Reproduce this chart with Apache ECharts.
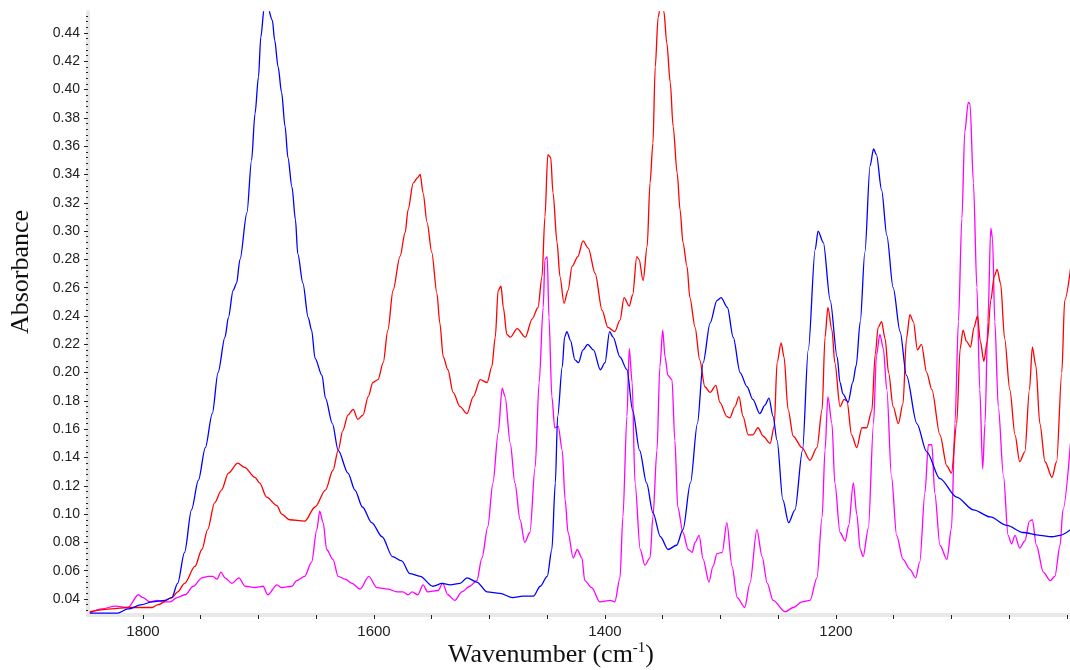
<!DOCTYPE html>
<html>
<head>
<meta charset="utf-8">
<title>IR absorbance spectra</title>
<script src="https://cdn.jsdelivr.net/npm/echarts@6/dist/echarts.min.js"></script>
<style>
  html, body { margin: 0; padding: 0; background: #ffffff; }
  #chart { width: 1070px; height: 670px; }
</style>
</head>
<body>
<div id="chart"></div>
<script>
// Absorbance spectra, [wavenumber (cm-1), absorbance]
const blueSpectrum = [
  [1846, 0.030], [1822, 0.030], [1813, 0.033], [1801, 0.036], [1792, 0.038], [1781, 0.039], [1775, 0.041],
  [1770, 0.051], [1764, 0.073], [1758, 0.103], [1752, 0.124], [1746, 0.147], [1740, 0.171], [1735, 0.200],
  [1729, 0.225], [1726, 0.239], [1722, 0.258], [1719, 0.263], [1716, 0.280], [1710, 0.313], [1706, 0.350],
  [1703, 0.383], [1700, 0.409], [1698, 0.437], [1695, 0.458], [1693.5, 0.463], [1692, 0.458], [1688, 0.449],
  [1686, 0.435], [1683, 0.416], [1680, 0.398], [1677, 0.374], [1674.5, 0.352], [1671, 0.331], [1668, 0.308],
  [1666, 0.284], [1661.5, 0.263], [1657, 0.239], [1654, 0.230], [1651, 0.210], [1645, 0.198], [1642, 0.182],
  [1636, 0.164], [1631, 0.145], [1622.5, 0.129], [1616.5, 0.117], [1610, 0.105], [1602, 0.094], [1593, 0.084],
  [1584, 0.070], [1576, 0.067], [1569, 0.058], [1560, 0.056], [1549, 0.049], [1541, 0.051], [1534, 0.050],
  [1525.5, 0.051], [1519.5, 0.055], [1511, 0.052], [1502, 0.045], [1491, 0.044], [1480, 0.041], [1471, 0.042],
  [1462, 0.042], [1456, 0.049], [1450, 0.056], [1446, 0.075], [1443, 0.122], [1441, 0.169], [1437, 0.204],
  [1435, 0.225], [1433, 0.229], [1430, 0.223], [1426, 0.209], [1423, 0.207], [1419, 0.216], [1415, 0.220],
  [1410, 0.216], [1404, 0.202], [1400, 0.207], [1396, 0.229], [1393, 0.225], [1387, 0.211], [1381, 0.202],
  [1376, 0.173], [1370, 0.145], [1364, 0.122], [1358.5, 0.101], [1352, 0.084], [1345.5, 0.075], [1338, 0.078],
  [1332.5, 0.089], [1326, 0.122], [1320, 0.164], [1315, 0.207], [1309, 0.235], [1303, 0.251], [1299.5, 0.253],
  [1294, 0.246], [1289, 0.225], [1283, 0.200], [1277, 0.190], [1272, 0.181], [1266, 0.171], [1261.5, 0.177],
  [1258, 0.182], [1254.5, 0.169], [1251, 0.152], [1246, 0.110], [1241, 0.094], [1235.5, 0.103], [1229, 0.145],
  [1224, 0.216], [1218, 0.287], [1215.5, 0.300], [1211, 0.292], [1205, 0.251], [1199, 0.211], [1196.5, 0.193],
  [1194, 0.185], [1189.5, 0.179], [1185.5, 0.193], [1182.5, 0.205], [1179, 0.236], [1175, 0.285], [1170.5, 0.346],
  [1167.5, 0.358], [1165, 0.354], [1160.5, 0.329], [1156, 0.297], [1150.5, 0.260], [1144.5, 0.229], [1139, 0.198],
  [1130, 0.164], [1121.5, 0.144], [1110, 0.125], [1095.5, 0.112], [1081, 0.103], [1066.5, 0.098], [1052, 0.092],
  [1038, 0.087], [1023.5, 0.085], [1013, 0.084], [1006, 0.085], [997, 0.089]
];

const redSpectrum = [
  [1846, 0.031], [1827, 0.033], [1813, 0.034], [1792, 0.034], [1787, 0.036], [1775, 0.041], [1770, 0.045],
  [1764, 0.051], [1755, 0.063], [1749, 0.075], [1744, 0.089], [1738, 0.108], [1732, 0.117], [1726, 0.129],
  [1718, 0.136], [1712, 0.133], [1703, 0.126], [1699, 0.122], [1693, 0.112], [1684, 0.106], [1680, 0.100],
  [1673, 0.096], [1660, 0.095], [1651, 0.105], [1642, 0.117], [1635.5, 0.131], [1631, 0.145], [1627, 0.159],
  [1622.5, 0.170], [1618, 0.174], [1614, 0.167], [1609.5, 0.170], [1605, 0.183], [1601, 0.193], [1596.5, 0.195],
  [1592, 0.207], [1588, 0.230], [1583.5, 0.258], [1577.5, 0.282], [1573, 0.299], [1570.5, 0.315], [1566, 0.334],
  [1562, 0.338], [1560, 0.340], [1557.5, 0.327], [1554, 0.306], [1550, 0.285], [1545.5, 0.256], [1543, 0.235],
  [1540, 0.211], [1536, 0.202], [1531.5, 0.186], [1525.5, 0.176], [1519.5, 0.171], [1514, 0.183], [1508, 0.195],
  [1502, 0.193], [1498, 0.204], [1495, 0.225], [1492.5, 0.258], [1490, 0.261], [1488, 0.246], [1485, 0.227],
  [1482, 0.225], [1476, 0.231], [1469, 0.225], [1463, 0.238], [1458, 0.246], [1454.5, 0.268], [1452, 0.310],
  [1449.5, 0.354], [1447, 0.352], [1445, 0.327], [1441.5, 0.292], [1439, 0.268], [1435.5, 0.249], [1432, 0.258],
  [1428.5, 0.275], [1423.5, 0.282], [1419, 0.293], [1414.5, 0.288], [1408.5, 0.270], [1402.5, 0.244], [1397.5, 0.232],
  [1391.5, 0.229], [1387, 0.237], [1383.5, 0.253], [1379, 0.247], [1376, 0.255], [1372.5, 0.282], [1370.5, 0.280],
  [1367, 0.265], [1363.5, 0.289], [1361, 0.334], [1358.5, 0.362], [1356.5, 0.416], [1354, 0.451], [1351.5, 0.462],
  [1349, 0.455], [1346.5, 0.433], [1343.5, 0.405], [1341, 0.374], [1337.5, 0.341], [1335, 0.315], [1332.5, 0.292],
  [1329, 0.275], [1326.5, 0.253], [1322, 0.232], [1318, 0.209], [1313.5, 0.190], [1309, 0.186], [1304, 0.191],
  [1300.5, 0.179], [1294.5, 0.169], [1292, 0.168], [1287.5, 0.176], [1284, 0.183], [1280.5, 0.169], [1276, 0.156],
  [1272, 0.156], [1267.5, 0.161], [1263, 0.155], [1257, 0.150], [1253.5, 0.162], [1251, 0.207], [1247.5, 0.221],
  [1245, 0.211], [1241.5, 0.174], [1237, 0.155], [1229.5, 0.147], [1222.5, 0.138], [1216.5, 0.147], [1212, 0.174],
  [1209.5, 0.225], [1207, 0.246], [1203.5, 0.230], [1201, 0.207], [1196.5, 0.176], [1193, 0.181], [1190.5, 0.180],
  [1186.5, 0.156], [1182, 0.147], [1177.5, 0.161], [1173.5, 0.161], [1169, 0.173], [1166, 0.213], [1163.5, 0.232],
  [1160.5, 0.236], [1157.5, 0.224], [1154.5, 0.200], [1150.5, 0.176], [1146, 0.164], [1142, 0.178], [1139, 0.224],
  [1136, 0.241], [1133, 0.236], [1129.5, 0.216], [1126, 0.220], [1121.5, 0.200], [1117, 0.188], [1110, 0.156],
  [1104, 0.134], [1100, 0.129], [1095.5, 0.164], [1092.5, 0.217], [1090, 0.230], [1087, 0.222], [1083.5, 0.218],
  [1080.5, 0.232], [1077.5, 0.240], [1075, 0.222], [1072, 0.208], [1069, 0.222], [1066, 0.251], [1063, 0.268],
  [1060.5, 0.273], [1057.5, 0.263], [1054, 0.224], [1049.5, 0.188], [1045, 0.156], [1041, 0.137], [1036.5, 0.144],
  [1032.5, 0.188], [1030, 0.218], [1027, 0.205], [1023.5, 0.164], [1019, 0.137], [1013, 0.126], [1009, 0.137],
  [1004.5, 0.200], [1002, 0.251], [997, 0.273]
];

const magentaSpectrum = [
  [1846, 0.030], [1835.5, 0.033], [1824, 0.035], [1813, 0.034], [1804, 0.043], [1800, 0.041], [1794, 0.038],
  [1788, 0.039], [1782.5, 0.038], [1776.5, 0.038], [1770.5, 0.041], [1763.5, 0.043], [1756.5, 0.049], [1749, 0.055],
  [1743.5, 0.056], [1739.5, 0.056], [1736, 0.054], [1732.5, 0.059], [1729, 0.055], [1723, 0.051], [1717, 0.055],
  [1711.5, 0.049], [1703, 0.048], [1696, 0.049], [1692, 0.043], [1684, 0.050], [1680, 0.048], [1671, 0.049],
  [1667, 0.053], [1660, 0.056], [1654, 0.066], [1649.5, 0.089], [1647, 0.102], [1644, 0.094], [1641, 0.075],
  [1635.5, 0.068], [1631, 0.056], [1625, 0.054], [1619, 0.051], [1612, 0.047], [1604.5, 0.056], [1597.5, 0.048],
  [1588, 0.047], [1580, 0.045], [1575, 0.045], [1570.5, 0.043], [1567, 0.045], [1562, 0.043], [1557.5, 0.050],
  [1553.5, 0.045], [1544.5, 0.046], [1540.5, 0.051], [1536, 0.043], [1530, 0.039], [1524, 0.045], [1517, 0.049],
  [1511, 0.053], [1506.5, 0.069], [1501.5, 0.091], [1497, 0.122], [1492.5, 0.157], [1489, 0.189], [1486.5, 0.183],
  [1482, 0.150], [1478, 0.122], [1473.5, 0.096], [1469.5, 0.080], [1465, 0.087], [1460.5, 0.133], [1457, 0.193],
  [1453.5, 0.246], [1452, 0.280], [1450, 0.282], [1448.5, 0.239], [1446, 0.183], [1443.5, 0.161], [1440.5, 0.162],
  [1437, 0.145], [1434.5, 0.110], [1432, 0.087], [1427.5, 0.069], [1424, 0.075], [1420, 0.069], [1417.5, 0.053],
  [1411.5, 0.048], [1404.5, 0.038], [1395.5, 0.039], [1391.5, 0.038], [1387, 0.055], [1384.5, 0.098], [1381, 0.169],
  [1379, 0.217], [1376.5, 0.193], [1374, 0.122], [1369.5, 0.075], [1365.5, 0.064], [1361, 0.069], [1358.5, 0.098],
  [1355, 0.145], [1352.5, 0.204], [1350, 0.230], [1348, 0.211], [1345.5, 0.198], [1342, 0.195], [1339.5, 0.152],
  [1337, 0.105], [1332.5, 0.087], [1328, 0.075], [1324.5, 0.073], [1322, 0.080], [1318.5, 0.085], [1315, 0.068],
  [1310, 0.052], [1306.5, 0.063], [1303, 0.072], [1298.5, 0.073], [1294.5, 0.094], [1290, 0.063], [1285.5, 0.041],
  [1279, 0.034], [1274.5, 0.051], [1268.5, 0.089], [1264, 0.070], [1259.5, 0.051], [1254.5, 0.039], [1244, 0.031],
  [1237, 0.034], [1229.5, 0.038], [1222.5, 0.039], [1216.5, 0.055], [1212, 0.098], [1209.5, 0.145], [1207, 0.183],
  [1203.5, 0.164], [1201, 0.122], [1196.5, 0.087], [1192, 0.081], [1189, 0.092], [1185, 0.122], [1182, 0.100],
  [1179, 0.075], [1176.5, 0.070], [1172, 0.090], [1167.5, 0.164], [1165, 0.212], [1162, 0.227], [1159, 0.217],
  [1156, 0.188], [1152, 0.127], [1147.5, 0.085], [1142, 0.068], [1136, 0.061], [1131, 0.055], [1127.5, 0.066],
  [1123, 0.115], [1120, 0.149], [1117, 0.149], [1114.5, 0.115], [1110, 0.078], [1104, 0.068], [1100, 0.090],
  [1097, 0.164], [1094, 0.236], [1091, 0.309], [1088.5, 0.370], [1085.5, 0.391], [1084, 0.390], [1081, 0.334],
  [1078, 0.260], [1075.5, 0.188], [1073, 0.132], [1071, 0.164], [1068.5, 0.236], [1066, 0.302], [1064.5, 0.295],
  [1062.5, 0.236], [1059.5, 0.176], [1055, 0.127], [1051, 0.085], [1048, 0.079], [1045, 0.085], [1041, 0.076],
  [1036.5, 0.081], [1032.5, 0.095], [1030, 0.096], [1026.5, 0.078], [1020.5, 0.059], [1014.5, 0.053], [1010.5, 0.056],
  [1006, 0.078], [1003.5, 0.103], [997, 0.150]
];

// Axis tick labels
const xLabelValues = [1800, 1600, 1400, 1200];
const yLabelValues = [0.04, 0.06, 0.08, 0.10, 0.12, 0.14, 0.16, 0.18, 0.20, 0.22, 0.24,
                      0.26, 0.28, 0.30, 0.32, 0.34, 0.36, 0.38, 0.40, 0.42, 0.44];

// Axis extents
const xRange = [997.4, 1847.6];
const yRange = [0.0287, 0.4548];

// Tick positions: every 50 cm-1 along x, every 0.004 as minor ticks along y
const xTickValues = [];
for (let v = 1000; v <= 1800; v += 50) xTickValues.push(v);
const yMinorValues = [];
for (let i = 0; i <= 105; i++) yMinorValues.push(+(0.032 + i * 0.004).toFixed(3));

const axisGrey = '#e8e8e8';
const inkColor = '#222222';

const chart = echarts.init(document.getElementById('chart'), null, { renderer: 'canvas' });

function spectrumSeries(name, data, color, z) {
  return {
    name: name,
    type: 'line',
    data: data,
    showSymbol: false,
    symbol: 'none',
    smooth: 0.3,
    smoothMonotone: 'x',
    clip: true,
    lineStyle: { color: color, width: 1.3 },
    z: z
  };
}

chart.setOption({
  animation: false,
  backgroundColor: '#ffffff',
  grid: { left: 88, right: 0, top: 12, bottom: 55, containLabel: false },
  xAxis: {
    type: 'value',
    inverse: true,
    min: xRange[0],
    max: xRange[1],
    axisLine: { show: true, lineStyle: { color: axisGrey, width: 4 } },
    axisTick: { show: true, length: 4, customValues: xTickValues, lineStyle: { color: inkColor, width: 1 } },
    axisLabel: {
      customValues: xLabelValues,
      margin: 9,
      fontSize: 15,
      fontFamily: 'Liberation Sans, Arial, sans-serif',
      color: inkColor,
      formatter: v => String(Math.round(v))
    },
    splitLine: { show: false }
  },
  yAxis: [
    {
      type: 'value',
      min: yRange[0],
      max: yRange[1],
      position: 'left',
      axisLine: { show: true, lineStyle: { color: axisGrey, width: 4 } },
      axisTick: { show: true, length: 4, customValues: yLabelValues, lineStyle: { color: inkColor, width: 1 } },
      axisLabel: {
        customValues: yLabelValues,
        margin: 8,
        fontSize: 14,
        fontFamily: 'Liberation Sans, Arial, sans-serif',
        color: inkColor,
        formatter: v => v.toFixed(2)
      },
      splitLine: { show: false }
    },
    {
      type: 'value',
      min: yRange[0],
      max: yRange[1],
      position: 'left',
      axisLine: { show: false },
      axisTick: { show: true, length: 2, customValues: yMinorValues, lineStyle: { color: inkColor, width: 1 } },
      axisLabel: { show: false },
      splitLine: { show: false }
    }
  ],
  graphic: [
    {
      type: 'text',
      x: 21,
      y: 272,
      rotation: Math.PI / 2,
      style: {
        text: 'Absorbance',
        font: '26px "Liberation Serif", "Times New Roman", serif',
        fill: '#111111',
        align: 'center',
        verticalAlign: 'middle',
        textAlign: 'center',
        textVerticalAlign: 'middle'
      }
    },
    {
      type: 'text',
      x: 551,
      y: 655,
      style: {
        text: '{a|Wavenumber (cm}{s|-1}{a|)}',
        align: 'center',
        verticalAlign: 'middle',
        textAlign: 'center',
        textVerticalAlign: 'middle',
        rich: {
          a: { fontFamily: 'Liberation Serif', fontSize: 26, fill: '#111111', color: '#111111', lineHeight: 28 },
          s: { fontFamily: 'Liberation Serif', fontSize: 15, fill: '#111111', color: '#111111', verticalAlign: 'top', lineHeight: 28 }
        }
      }
    }
  ],
  series: [
    spectrumSeries('magenta', magentaSpectrum, '#ff00ff', 2),
    spectrumSeries('red', redSpectrum, '#ff0000', 3),
    spectrumSeries('blue', blueSpectrum, '#0000ff', 4)
  ]
});
</script>
</body>
</html>
